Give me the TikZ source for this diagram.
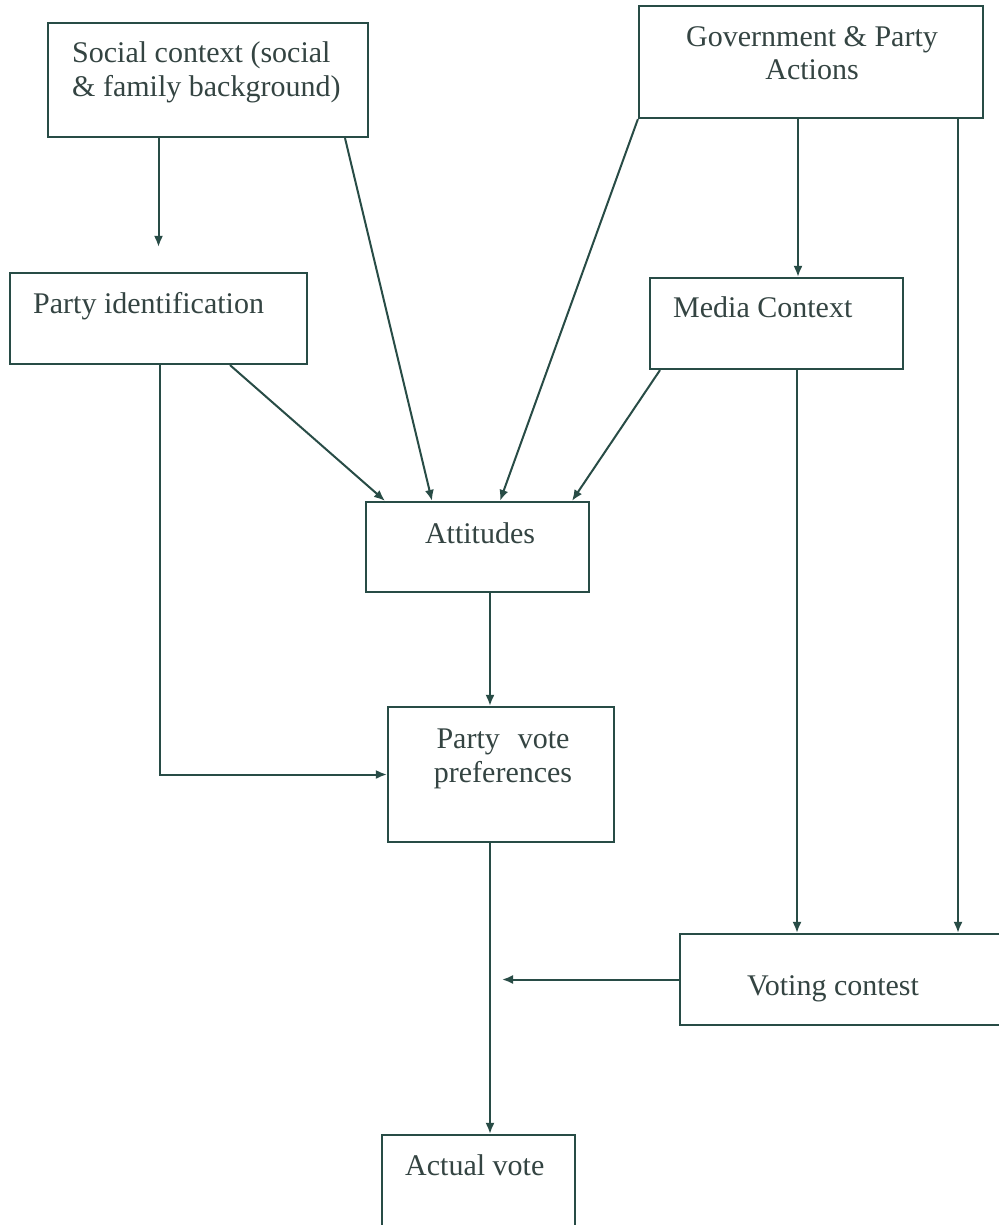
\documentclass[tikz,border=0pt]{standalone}
\usepackage{fontspec}
\setmainfont{Liberation Serif}
\usetikzlibrary{arrows.meta,calc}
\definecolor{ln}{RGB}{40,76,70}
\definecolor{tx}{RGB}{52,68,66}
\begin{document}
\begin{tikzpicture}[x=1pt,y=-1pt,
  box/.style={draw=ln,line width=2.2pt,inner sep=0pt,fill=none},
  lbl/.style={inner sep=0pt,text=tx,font=\fontsize{30}{34}\selectfont},
  arr/.style={draw=ln,line width=2pt,-{Latex[length=11pt,width=9pt]}}]
\useasboundingbox[fill=white] (0,0) rectangle (998,1225);
% boxes
\node[box,minimum width=320pt,minimum height=114pt] (soc) at (208,80) {};
\node[box,minimum width=344pt,minimum height=112pt] (gov) at (811,62) {};
\node[box,minimum width=297pt,minimum height=91pt] (pid) at (158.5,318.5) {};
\node[box,minimum width=253pt,minimum height=91pt] (med) at (776.5,323.5) {};
\node[box,minimum width=223pt,minimum height=90pt] (att) at (477.5,547) {};
\node[box,minimum width=226pt,minimum height=135pt] (pvp) at (501,774.5) {};
\node[box,minimum width=330pt,minimum height=91pt] (vc) at (845,979.5) {};
\node[box,minimum width=193pt,minimum height=100pt] (act) at (478.5,1185) {};
% texts
\node[lbl,anchor=base west] (tsoc1) at (72,63) {Social context (social};
\node[lbl,anchor=base west] (tsoc2) at (72,97) {\& family background)};
\node[lbl,anchor=base] (tgov1) at (812,47) {Government \& Party};
\node[lbl,anchor=base] (tgov2) at (812,80) {Actions};
\node[lbl,anchor=base west] (tpid) at (33,313) {Party identification};
\node[lbl,anchor=base west] (tmed) at (673,317) {Media Context};
\node[lbl,anchor=base] (tatt) at (480,543) {Attitudes};
\node[lbl,anchor=base] (tpvp1) at (503,748) {Party\hspace{0.6em}vote};
\node[lbl,anchor=base] (tpvp2) at (503,782) {preferences};
\node[lbl,anchor=base] (tvc) at (833,995) {Voting contest};
\node[lbl,anchor=base west] (tact) at (405,1175) {Actual vote};
% connectors
\draw[arr] (soc.south -| pid.north) -- ([yshift=25pt]pid.north);
\draw[arr] ([xshift=137pt]soc.south) -- ([xshift=-45.5pt]att.north);
\draw[arr] (gov.south west) -- ([xshift=22.5pt]att.north);
\draw[arr] ([xshift=-13pt]gov.south) -- ([xshift=-13pt]gov.south |- med.north);
\draw[arr] ([xshift=147pt]gov.south) -- ([xshift=147pt]gov.south |- vc.north);
\draw[arr] ([xshift=71.5pt]pid.south) -- ([xshift=-92.5pt]att.north);
\draw[arr] ([xshift=-116.5pt]med.south) -- ([xshift=94.5pt]att.north);
\draw[arr] ([xshift=20.5pt]med.south) -- ([xshift=20.5pt]med.south |- vc.north);
\draw[arr] ([xshift=12.5pt]att.south) -- ([xshift=12.5pt]att.south |- pvp.north);
\draw[arr] ([xshift=1.5pt]pid.south) |- (pvp.west);
\coordinate (j) at ([xshift=-11pt]pvp.south);
\draw[arr] (j) -- (j |- act.north);
\draw[arr] (vc.west) -- ([xshift=12pt]vc.west -| j);
\end{tikzpicture}
\end{document}
